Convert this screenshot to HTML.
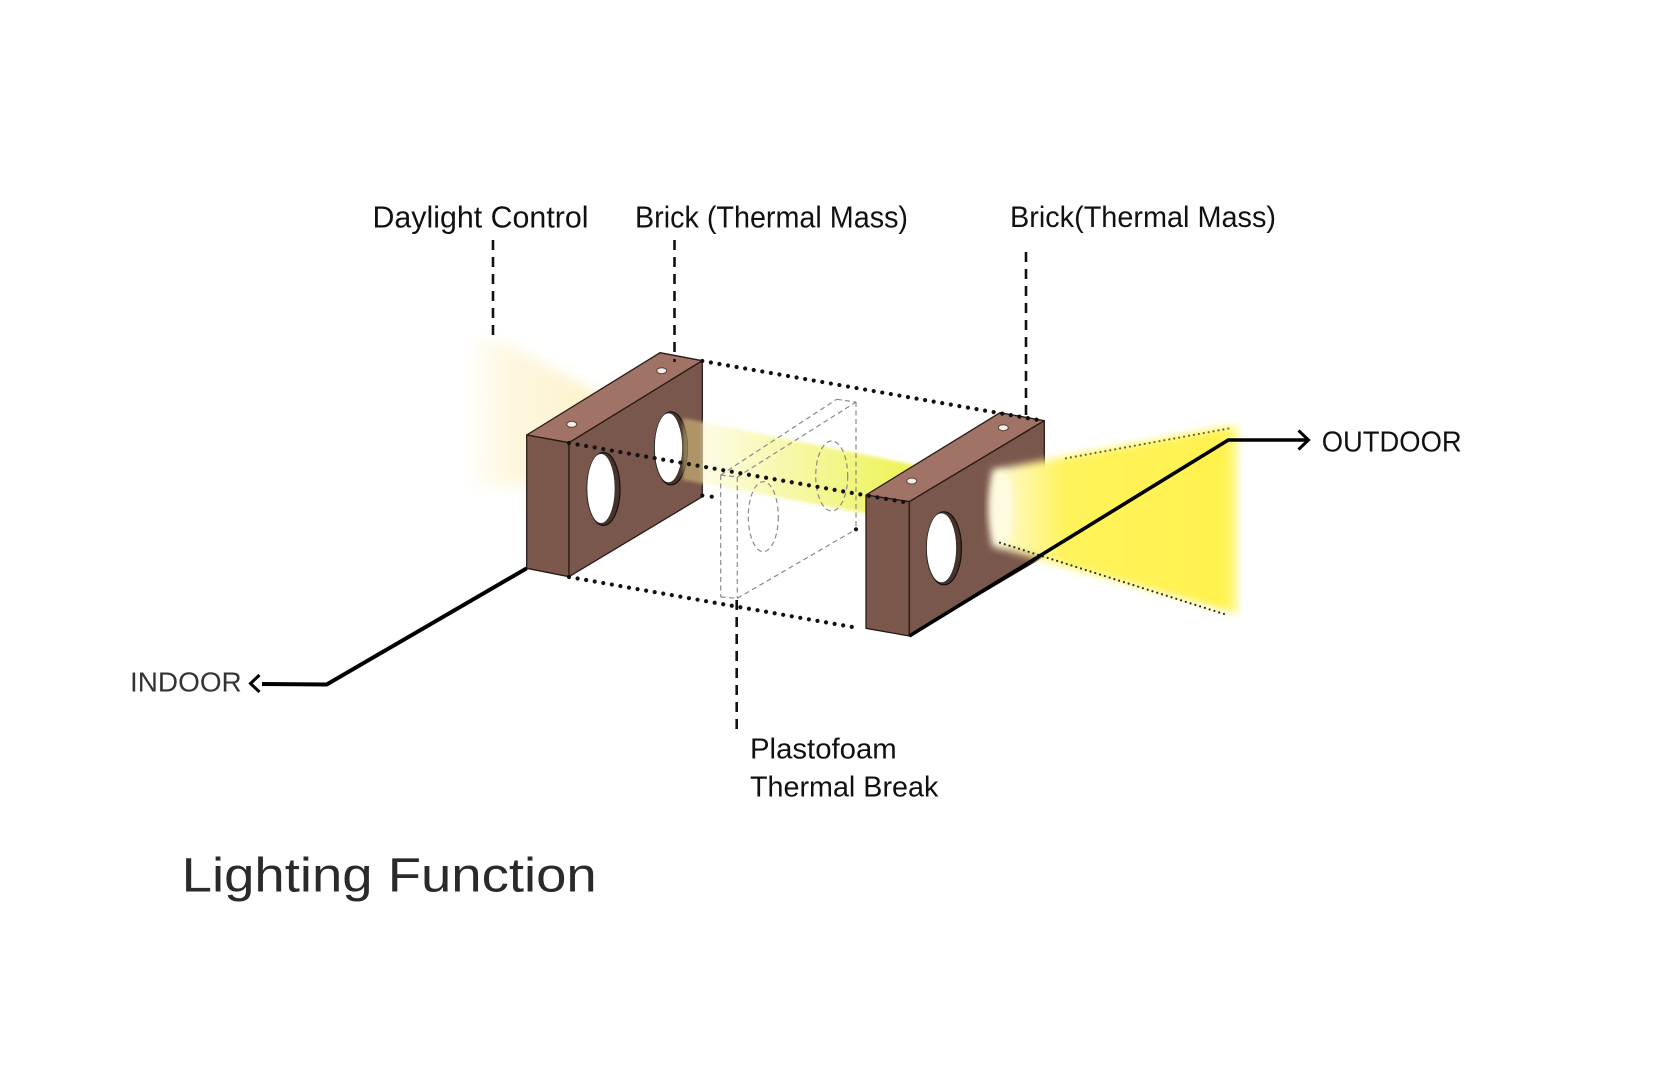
<!DOCTYPE html>
<html>
<head>
<meta charset="utf-8">
<style>
  html,body{margin:0;padding:0;background:#fff;}
  svg{display:block;}
  text{font-family:"Liberation Sans", "DejaVu Sans", sans-serif;}
</style>
</head>
<body>
<svg width="1680" height="1067" viewBox="0 0 1680 1067" xmlns="http://www.w3.org/2000/svg">
  <defs>
    <filter id="blurL" x="-30%" y="-30%" width="160%" height="160%"><feGaussianBlur stdDeviation="7"/></filter>
    <filter id="blurC" x="-20%" y="-20%" width="140%" height="140%"><feGaussianBlur stdDeviation="4"/></filter>
    <filter id="blurB" x="-10%" y="-30%" width="120%" height="160%"><feGaussianBlur stdDeviation="1.5"/></filter>
    <linearGradient id="glowL" x1="465" y1="0" x2="600" y2="0" gradientUnits="userSpaceOnUse">
      <stop offset="0" stop-color="#fef8e2" stop-opacity="0.2"/>
      <stop offset="0.35" stop-color="#fdf5d6" stop-opacity="0.8"/>
      <stop offset="1" stop-color="#fcf1c8" stop-opacity="1"/>
    </linearGradient>
    <linearGradient id="beam" x1="683" y1="0" x2="900" y2="0" gradientUnits="userSpaceOnUse">
      <stop offset="0" stop-color="#efe08a" stop-opacity="0.45"/>
      <stop offset="0.085" stop-color="#efe08a" stop-opacity="0.45"/>
      <stop offset="0.1" stop-color="#fcfce4" stop-opacity="0.95"/>
      <stop offset="0.4" stop-color="#f8f9b6" stop-opacity="1"/>
      <stop offset="1" stop-color="#eef35c" stop-opacity="1"/>
    </linearGradient>
    <linearGradient id="cone" x1="985" y1="0" x2="1250" y2="0" gradientUnits="userSpaceOnUse">
      <stop offset="0" stop-color="#fffdf0"/>
      <stop offset="0.12" stop-color="#fff8b0"/>
      <stop offset="0.3" stop-color="#fff35c"/>
      <stop offset="0.9" stop-color="#fff24e"/>
      <stop offset="1" stop-color="#fff24e" stop-opacity="0.2"/>
    </linearGradient>
  </defs>

  <rect width="1680" height="1067" fill="#fff"/>

  <!-- left pale glow -->
  <polygon points="472,338 500,340 600,394 605,470 520,486 470,488" fill="url(#glowL)" filter="url(#blurL)"/>

  <!-- LEFT BRICK -->
  <g stroke="#2a1a14" stroke-width="1.3" stroke-linejoin="round">
    <polygon points="526.7,435 569,442.7 702.3,360.7 660,352.7" fill="#a07366"/>
    <polygon points="526.7,435 569,442.7 569,576.7 526.7,568.3" fill="#7c574b"/>
    <polygon points="569,442.7 702.3,360.7 702.3,496.7 569,576.7" fill="#7a574c"/>
  </g>
  <!-- holes left brick -->
  <ellipse cx="603.5" cy="489" rx="16.5" ry="36.5" fill="#4b3229" stroke="#111" stroke-width="1.2"/>
  <ellipse cx="601" cy="488.5" rx="14" ry="34.8" fill="#ffffff" stroke="#333" stroke-width="0.7"/>
  <ellipse cx="671" cy="448.3" rx="16.5" ry="36.5" fill="#4b3229" stroke="#111" stroke-width="1.2"/>
  <ellipse cx="668.5" cy="447.8" rx="14" ry="34.8" fill="#ffffff" stroke="#333" stroke-width="0.7"/>
  <!-- top small holes -->
  <ellipse cx="571.7" cy="424.3" rx="5" ry="3" fill="#f4eeea" stroke="#5a4038" stroke-width="1"/>
  <ellipse cx="661.7" cy="370.7" rx="5" ry="3" fill="#f4eeea" stroke="#5a4038" stroke-width="1"/>

  <!-- beam -->
  <polygon points="683,418 935,469 935,526 683,480" fill="url(#beam)" filter="url(#blurB)"/>

  <!-- Plastofoam box (gray dashed) -->
  <g stroke="#8a8a8a" stroke-width="1.2" stroke-dasharray="5 3.5" fill="none">
    <line x1="720.7" y1="475" x2="737.3" y2="477"/>
    <line x1="720.7" y1="475" x2="836.7" y2="399.3"/>
    <line x1="836.7" y1="399.3" x2="856" y2="402"/>
    <line x1="737.3" y1="477" x2="856" y2="402"/>
    <line x1="720.7" y1="475" x2="720.7" y2="597"/>
    <line x1="737.3" y1="477" x2="737.3" y2="598.3"/>
    <line x1="856" y1="402" x2="856" y2="529.3"/>
    <line x1="737.3" y1="598.3" x2="856" y2="529.3"/>
    <line x1="720.7" y1="597" x2="737.3" y2="598.3"/>
    <ellipse cx="763.3" cy="516.7" rx="15" ry="35"/>
    <ellipse cx="831.7" cy="476" rx="16" ry="35"/>
  </g>

  <!-- RIGHT BRICK -->
  <g stroke="#2a1a14" stroke-width="1.3" stroke-linejoin="round">
    <polygon points="866,495 909.3,501.7 1044.3,420.7 1000,412.7" fill="#a07366"/>
    <polygon points="866,495 909.3,501.7 909.3,636 866,628.3" fill="#7c574b"/>
    <polygon points="909.3,501.7 1044.3,420.7 1044.3,556 909.3,636" fill="#7a574c"/>
  </g>
  <ellipse cx="944" cy="548.3" rx="17.5" ry="36.5" fill="#4b3229" stroke="#111" stroke-width="1.2"/>
  <ellipse cx="941.5" cy="547.8" rx="15" ry="34.8" fill="#ffffff" stroke="#333" stroke-width="0.7"/>
  <ellipse cx="911.7" cy="481" rx="5" ry="3" fill="#f4eeea" stroke="#5a4038" stroke-width="1"/>
  <ellipse cx="1003.3" cy="427.7" rx="5" ry="3" fill="#f4eeea" stroke="#5a4038" stroke-width="1"/>

  <!-- right cone of light -->
  <polygon points="992,470 1238,425 1238,614 992,546" fill="url(#cone)" filter="url(#blurC)"/>
  <ellipse cx="1001" cy="508" rx="12" ry="37" fill="#fffbe0" filter="url(#blurC)"/>
  <line x1="1066" y1="458.3" x2="1233" y2="427.7" stroke="#6b6420" stroke-width="2.2" stroke-linecap="round" stroke-dasharray="0 5"/>
  <line x1="1000" y1="542.7" x2="1225" y2="614.3" stroke="#2a2a20" stroke-width="2.2" stroke-linecap="round" stroke-dasharray="0 5"/>

  <!-- dotted construction lines -->
  <g stroke="#111" stroke-width="4.2" stroke-linecap="round" stroke-dasharray="0 8.7" fill="none">
    <line x1="702.3" y1="361" x2="1044.3" y2="421"/>
    <line x1="569" y1="443" x2="909.3" y2="503"/>
    <line x1="569" y1="577" x2="858" y2="628"/>
  </g>
  <circle cx="711.7" cy="496.7" r="2.1" fill="#111"/>
  <circle cx="702.3" cy="495.5" r="2.1" fill="#111"/>
  <circle cx="856" cy="529.3" r="2.1" fill="#111"/>

  <!-- dashed leaders -->
  <g stroke="#111" stroke-width="2.6" stroke-dasharray="10 7" fill="none">
    <line x1="493" y1="240" x2="493" y2="342"/>
    <line x1="674.5" y1="240" x2="674.5" y2="362"/>
    <line x1="1026" y1="252" x2="1026" y2="417"/>
    <line x1="736.7" y1="600" x2="736.7" y2="732"/>
  </g>

  <!-- OUTDOOR leader -->
  <polyline points="909.3,636 1228.3,440 1308,440" fill="none" stroke="#000" stroke-width="3.6" stroke-linejoin="miter"/>
  <polyline points="1298.5,430.5 1308.5,440 1298.5,449.5" fill="none" stroke="#000" stroke-width="3"/>

  <!-- INDOOR leader -->
  <polyline points="526.7,568.3 326.7,684.5 262,684" fill="none" stroke="#000" stroke-width="4" stroke-linejoin="miter"/>
  <polyline points="259.5,675 250.5,683.5 259.5,692" fill="none" stroke="#000" stroke-width="3"/>

  <!-- labels -->
  <text x="372.5" y="227.5" font-size="31" fill="#111" textLength="216" lengthAdjust="spacingAndGlyphs">Daylight Control</text>
  <text x="635" y="227.5" font-size="31" fill="#111" textLength="273" lengthAdjust="spacingAndGlyphs">Brick (Thermal Mass)</text>
  <text x="1010" y="227" font-size="30" fill="#111" textLength="266" lengthAdjust="spacingAndGlyphs">Brick(Thermal Mass)</text>
  <text x="1321.7" y="451.7" font-size="29" fill="#111" textLength="140" lengthAdjust="spacingAndGlyphs">OUTDOOR</text>
  <text x="130" y="691.7" font-size="28" fill="#333" textLength="111.7" lengthAdjust="spacingAndGlyphs">INDOOR</text>
  <text x="750" y="758.3" font-size="29" fill="#111" textLength="146.7" lengthAdjust="spacingAndGlyphs">Plastofoam</text>
  <text x="750" y="796.7" font-size="29" fill="#111" textLength="188.3" lengthAdjust="spacingAndGlyphs">Thermal Break</text>
  <text x="181.7" y="891.7" font-size="48" fill="#2a2a2a" textLength="415" lengthAdjust="spacingAndGlyphs">Lighting Function</text>
</svg>
</body>
</html>
